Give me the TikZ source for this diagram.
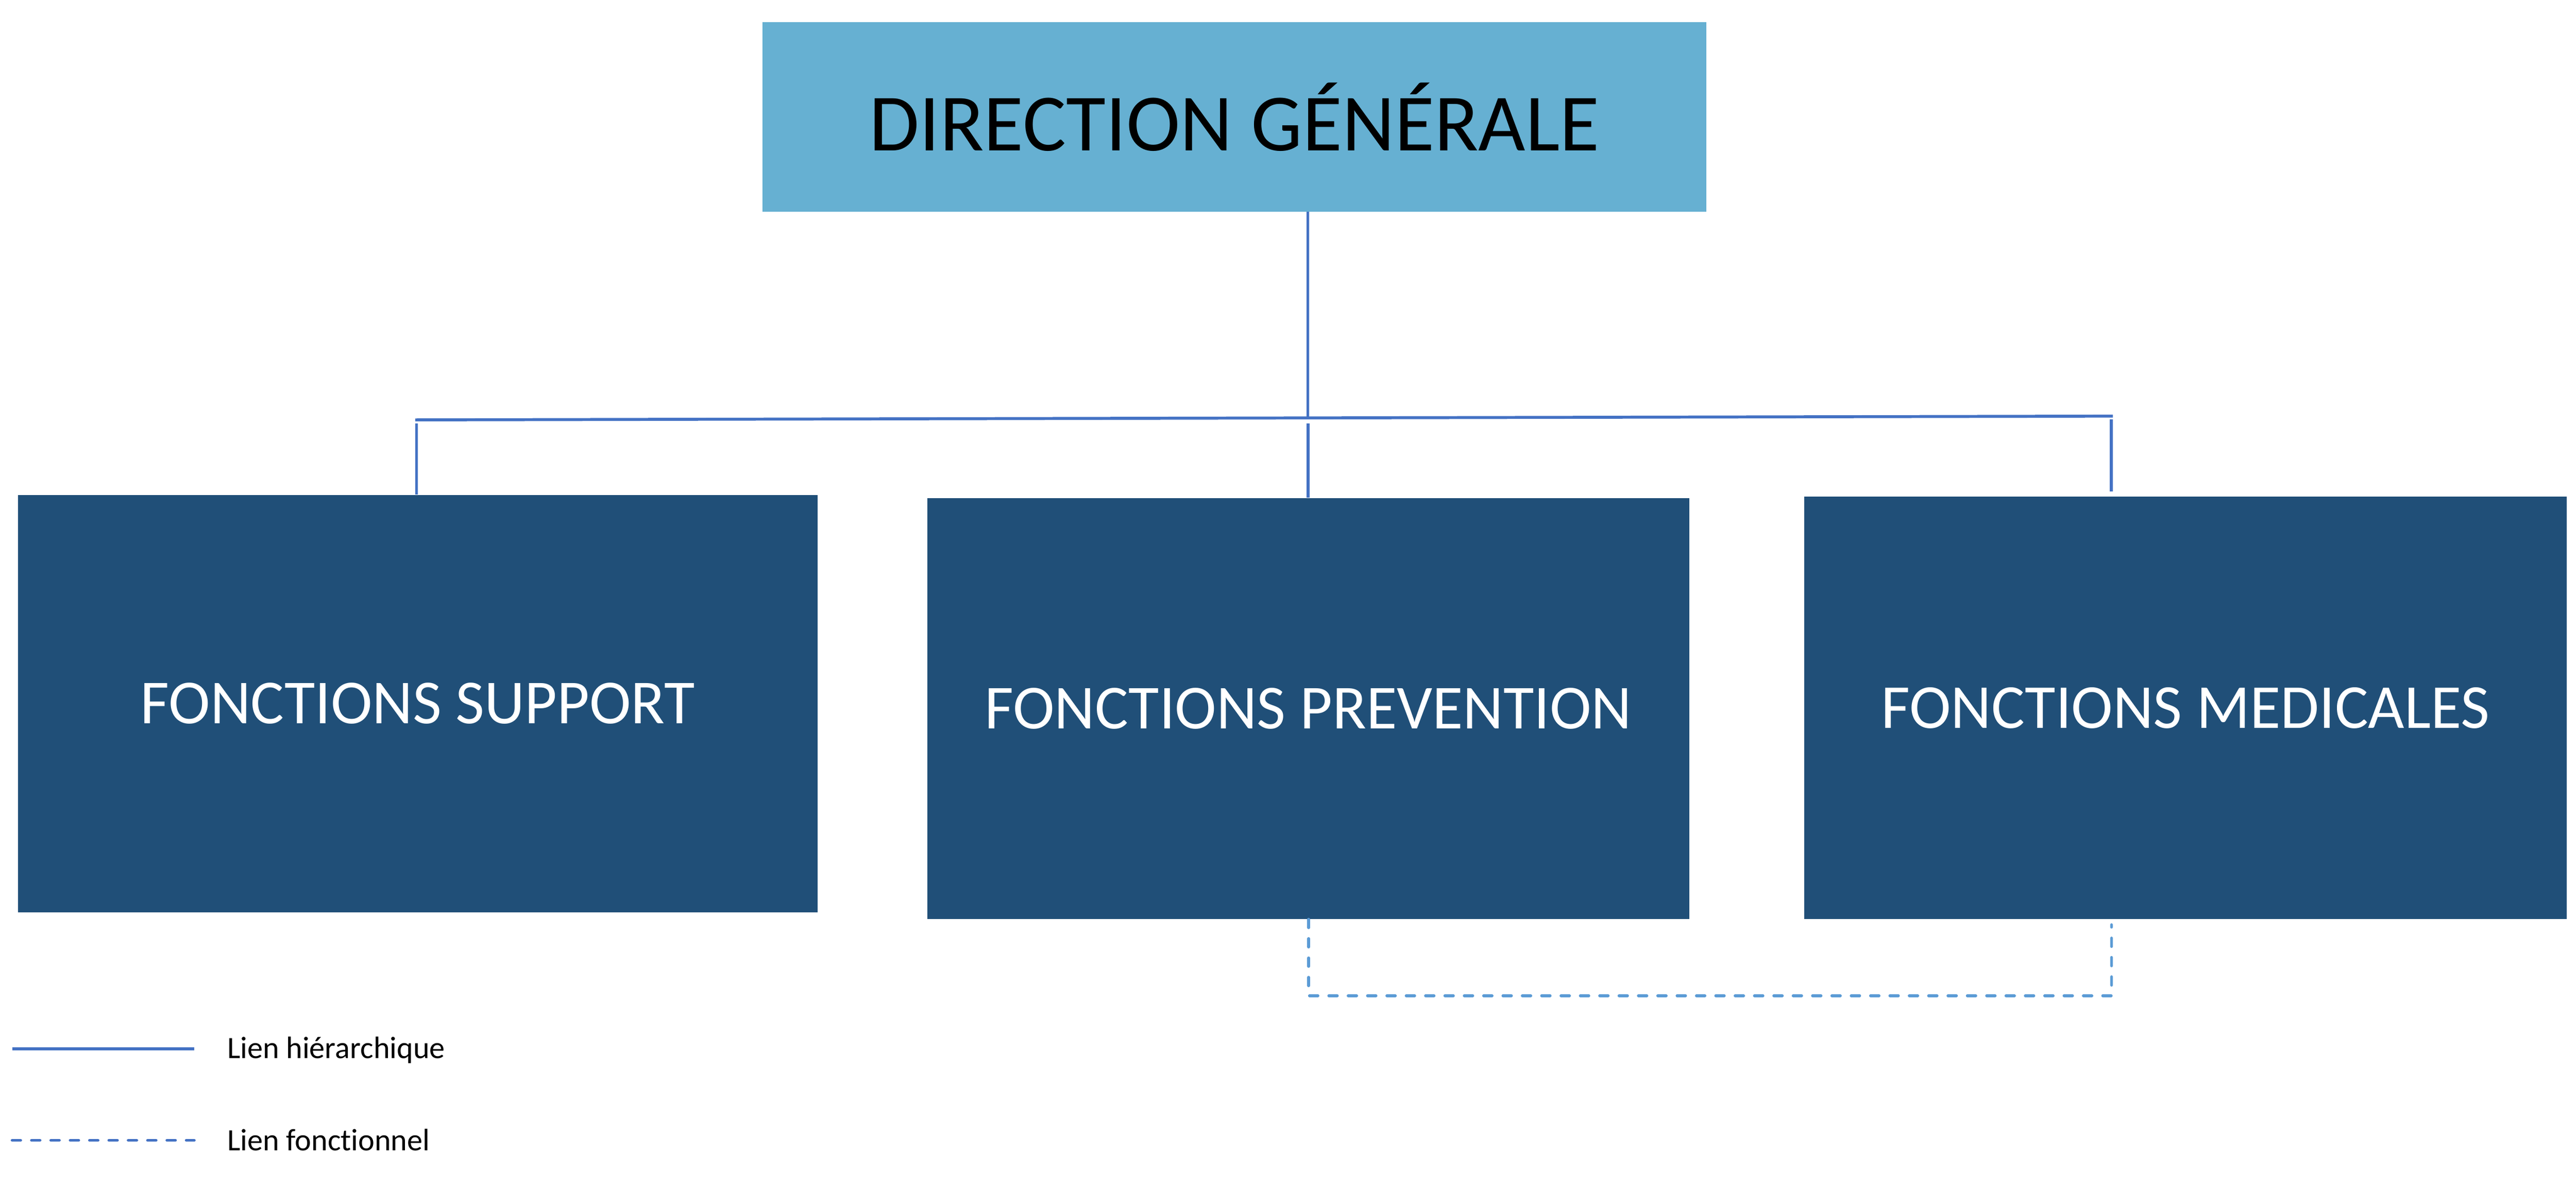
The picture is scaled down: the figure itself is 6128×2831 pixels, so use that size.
\documentclass[tikz,border=0pt]{standalone}
\usepackage{fontspec}
\setmainfont[Ligatures=NoCommon]{Carlito}
\definecolor{topfill}{HTML}{66B0D2}
\definecolor{boxfill}{HTML}{204F78}
\definecolor{hierblue}{HTML}{4472C4}
\definecolor{foncblue}{HTML}{5B9BD5}
\tikzset{
  topbox/.style={rectangle, fill=topfill, draw=none, inner sep=0pt, text=black,
    font=\fontsize{55pt}{62pt}\selectfont},
  funcbox/.style={rectangle, fill=boxfill, draw=none, inner sep=0pt, text=white,
    font=\fontsize{42.4pt}{50pt}\selectfont},
  hier/.style={draw=hierblue, line width=0.07cm},
  fonc/.style={draw=foncblue, line width=0.07cm, line cap=round, dash pattern=on 0.2cm off 0.26cm},
  foncleg/.style={draw=hierblue, line width=0.07cm, line cap=round, dash pattern=on 0.2cm off 0.26cm},
  legtext/.style={anchor=base west, inner sep=0pt, font=\fontsize{21pt}{25pt}\selectfont}
}
\begin{document}
\begin{tikzpicture}[x=0.01cm, y=-0.01cm]
\useasboundingbox (0,0) rectangle (6128,2831);
% boxes
\node[topbox, minimum width=22.45cm, minimum height=4.50cm] (dg) at (2936.5,278) {DIRECTION GÉNÉRALE};
\node[funcbox, minimum width=19.00cm, minimum height=9.92cm] (sup) at (994,1674) {FONCTIONS SUPPORT};
\node[funcbox, minimum width=18.11cm, minimum height=10.01cm] (prev) at (3112.5,1685.5) {FONCTIONS PREVENTION};
\node[funcbox, minimum width=18.12cm, minimum height=10.04cm] (med) at (5199,1684) {FONCTIONS MEDICALES};
% hierarchical links
\coordinate (busL) at (988,999);
\coordinate (busR) at (5026,990);
\coordinate (busM) at (3111,995);
\coordinate (dropL) at (991,1008);
\coordinate (dropM) at (3112,1008);
\coordinate (dropR) at (5022,998);
\coordinate (dropRend) at (5022,1169);
\draw[hier] (dg.south -| busM) -- (busM);
\draw[hier] (busL) -- (busR);
\draw[hier] (dropL) -- (dropL |- sup.north);
\draw[hier] (dropM) -- (dropM |- prev.north);
\draw[hier] (dropR) -- (dropRend);
% functional link
\coordinate (fL) at (3113,2369);
\coordinate (fR) at (5023,2369);
\coordinate (fRtop) at (5023,2200);
\draw[fonc] (prev.south -| fL) -- (fL) -- (fR) -- (fRtop);
% legend
\coordinate (l1a) at (29,2495);
\coordinate (l1b) at (462,2495);
\coordinate (l2a) at (29,2713);
\coordinate (l2b) at (462,2713);
\draw[hier] (l1a) -- (l1b);
\draw[foncleg] (l2a) -- (l2b);
\node[legtext] (t1) at (540,2518) {Lien hiérarchique};
\node[legtext] (t2) at (540,2737) {Lien fonctionnel};
\end{tikzpicture}
\end{document}
